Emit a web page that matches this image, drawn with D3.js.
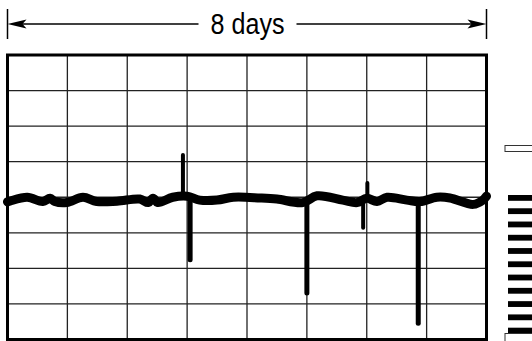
<!DOCTYPE html>
<html><head><meta charset="utf-8">
<script src="https://cdn.jsdelivr.net/npm/d3@7"></script>
<style>html,body{margin:0;padding:0;background:#fff;}svg{display:block;}</style>
</head><body><svg id="c" width="532" height="341"></svg>
<script>
// time in days (0-8), value in grid units (0-8)
const days = [0,0.04,0.33,0.59,0.71,0.79,0.99,1.26,1.49,1.83,2.21,2.35,2.43,2.51,2.76,3.00,3.21,3.50,3.77,4.22,4.50,4.93,5.17,5.60,5.84,6.00,6.17,6.34,6.67,6.89,7.17,7.39,7.78,7.94,8.0];
const values = [3.87,3.89,4.00,3.88,3.97,3.88,3.85,4.00,3.88,3.89,3.95,3.85,3.97,3.85,4.00,4.03,3.92,3.92,4.00,3.98,3.95,3.85,4.04,3.92,3.85,3.97,3.88,4.00,3.92,3.88,4.00,3.98,3.80,3.92,4.03];
// spikes: day, start value, end value
const spikeDays = [2.93,3.05,5.00,6.01,5.94,6.86];
const spikeFrom = [3.98,3.98,3.86,3.92,3.92,3.86];
const spikeTo   = [5.19,2.24,1.31,4.40,3.14,0.46];
const spikeWidth = [4,5,5,4,4,5];
const gridTicksX = [1,2,3,4,5,6,7];
const gridTicksY = [1,2,3,4,5,6,7];
const label = "8 days";
const gaugeLevels = [1,2,3,4,5,6,7,8,9,10,11];

const svg = d3.select("#c");
const L=7.5, R=486.5, T=55, B=339.5;
const x = d3.scaleLinear().domain([0,8]).range([L,R]);
const y = d3.scaleLinear().domain([0,8]).range([B,T]);

// grid
svg.append("g").selectAll("line").data(gridTicksX).join("line")
  .attr("x1",d=>x(d)).attr("x2",d=>x(d)).attr("y1",T).attr("y2",B)
  .attr("stroke","#222").attr("stroke-width",1.3);
svg.append("g").selectAll("line").data(gridTicksY).join("line")
  .attr("y1",d=>y(d)).attr("y2",d=>y(d)).attr("x1",L).attr("x2",R)
  .attr("stroke","#222").attr("stroke-width",1.3);

// spikes
svg.append("g").selectAll("line").data(spikeDays).join("line")
  .attr("x1",d=>x(d)).attr("x2",d=>x(d))
  .attr("y1",(d,i)=>y(spikeFrom[i])).attr("y2",(d,i)=>y(spikeTo[i]))
  .attr("stroke","#000").attr("stroke-width",(d,i)=>spikeWidth[i]).attr("stroke-linecap","round");

// main line
const pts = days.map((d,i)=>[d,values[i]]);
svg.append("path").datum(pts)
  .attr("d", d3.line().x(d=>x(d[0])).y(d=>y(d[1])).curve(d3.curveCatmullRom.alpha(0.5)))
  .attr("fill","none").attr("stroke","#000").attr("stroke-width",9).attr("stroke-linecap","round").attr("stroke-linejoin","round");

// frame
svg.append("rect").attr("x",L).attr("y",T).attr("width",R-L).attr("height",B-T)
  .attr("fill","none").attr("stroke","#000").attr("stroke-width",3);

// top dimension arrow
const ay = 24;
const g = svg.append("g");
g.append("line").attr("x1",x(0)).attr("x2",x(0)).attr("y1",9).attr("y2",39).attr("stroke","#000").attr("stroke-width",1.5);
g.append("line").attr("x1",x(8)).attr("x2",x(8)).attr("y1",9).attr("y2",39).attr("stroke","#000").attr("stroke-width",1.5);
const txt = g.append("text").attr("x",x(4)+0.5).attr("y",34).attr("text-anchor","middle")
  .attr("font-family","'Liberation Sans Narrow','Liberation Sans',Arial,sans-serif").attr("font-size",29)
  .attr("textLength",74).attr("lengthAdjust","spacingAndGlyphs").text(label);
const tx0 = x(4)+0.5-37, tx1 = x(4)+0.5+37;
g.append("line").attr("x1",x(0)+10).attr("x2",tx0-12).attr("y1",ay).attr("y2",ay).attr("stroke","#000").attr("stroke-width",1.5);
g.append("line").attr("x1",tx1+12).attr("x2",x(8)-10).attr("y1",ay).attr("y2",ay).attr("stroke","#000").attr("stroke-width",1.5);
g.append("path").attr("d",`M${x(0)},${ay} L${x(0)+19},${ay-4.5} L${x(0)+15},${ay} L${x(0)+19},${ay+4.5}Z`).attr("fill","#000");
g.append("path").attr("d",`M${x(8)},${ay} L${x(8)-19},${ay-4.5} L${x(8)-15},${ay} L${x(8)-19},${ay+4.5}Z`).attr("fill","#000");

// right gauge
const gy = d3.scaleBand().domain(gaugeLevels).range([195,333]).paddingInner(0.6).paddingOuter(0);
svg.append("g").selectAll("rect").data(gaugeLevels).join("rect")
  .attr("x",508).attr("width",30).attr("y",d=>gy(d)).attr("height",gy.bandwidth()+0.5).attr("fill","#000");
svg.append("rect").attr("x",505).attr("y",145.5).attr("width",40).attr("height",6).attr("fill","#fff").attr("stroke","#333").attr("stroke-width",1);
svg.append("rect").attr("x",505).attr("y",333.5).attr("width",40).attr("height",8).attr("fill","#fff").attr("stroke","#333").attr("stroke-width",1);
</script></body></html>
